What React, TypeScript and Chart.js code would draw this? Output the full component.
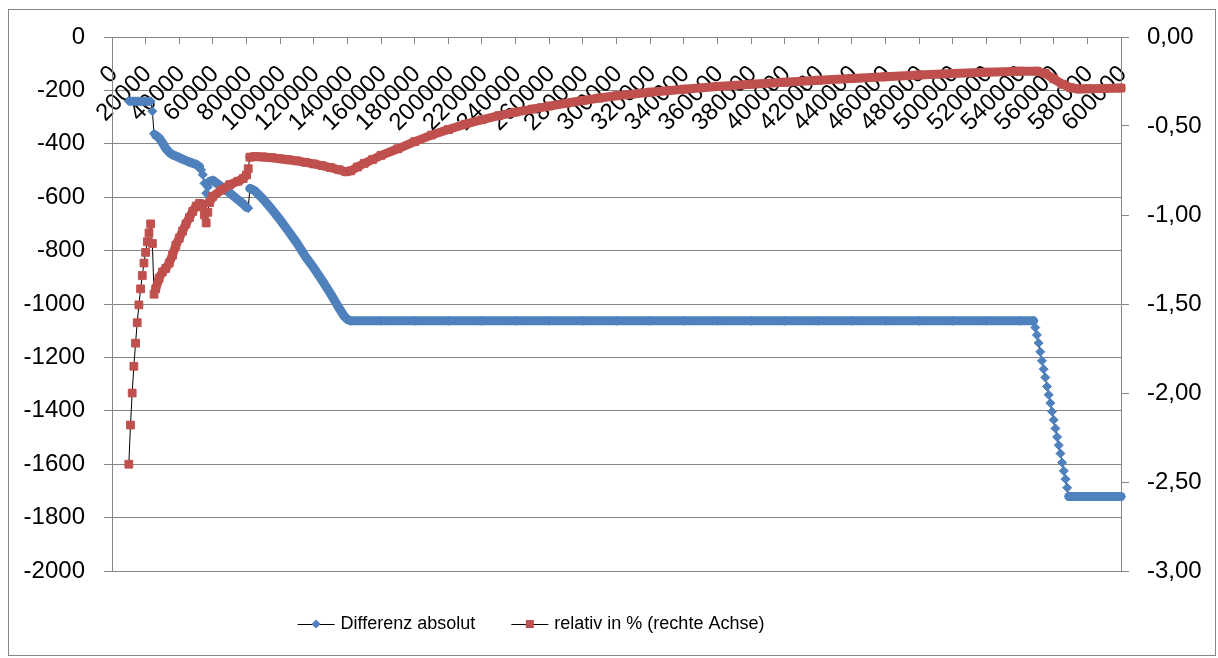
import React, { useEffect, useRef } from "react";
import { Chart, registerables } from "chart.js";

Chart.register(...registerables);

// ---------- data ----------
const seriesNames = ["Differenz absolut", "relativ in % (rechte Achse)"];

const blueX = [
  10000, 11000, 12000, 13000, 14000, 15000, 16000, 17000, 18000, 19000, 20000, 21000, 22000, 23000,
  24000, 25000, 26000, 28000, 30000, 32000, 34000, 36000, 38000, 40000, 42000, 44000, 46000, 48000,
  50000, 52000, 53000, 54000, 55000, 56000, 57000, 58000, 60000, 65000, 70000, 75000, 78000, 80000,
  81000, 82000, 85000, 90000, 95000, 100000, 105000, 110000, 115000, 120000, 125000, 130000, 135000,
  138000, 140000, 142000, 160000, 180000, 200000, 220000, 240000, 260000, 280000, 300000, 320000,
  340000, 360000, 380000, 400000, 420000, 440000, 460000, 480000, 500000, 520000, 540000, 548000,
  549000, 550000, 551000, 552000, 553000, 554000, 555000, 556000, 557000, 558000, 559000, 560000,
  561000, 562000, 563000, 564000, 565000, 566000, 567000, 568000, 569000, 580000, 590000, 600000,
];
const blueY = [
  -240, -241, -241, -241, -241, -241, -241, -242, -241, -241, -242, -242, -241, -241,
  -278, -362, -368, -378, -396, -418, -432, -441, -446, -452, -458, -463, -468, -473,
  -477, -486, -498, -516, -548, -585, -562, -541, -537, -560, -584, -610, -625, -638,
  -641, -567, -576, -608, -645, -685, -728, -772, -822, -865, -912, -962, -1015,
  -1045, -1058, -1063, -1063, -1063, -1063, -1063, -1063, -1063, -1063, -1063, -1063,
  -1063, -1063, -1063, -1063, -1063, -1063, -1063, -1063, -1063, -1063, -1063, -1063,
  -1088, -1116, -1146, -1179, -1213, -1244, -1275, -1309, -1340, -1371, -1403, -1434,
  -1466, -1498, -1529, -1560, -1594, -1625, -1656, -1688, -1721, -1721, -1721, -1721,
];

const redX = [
  10000, 11000, 12000, 13000, 14000, 15000, 16000, 17000, 18000, 19000, 20000, 21000, 22000, 23000,
  24000, 25000, 26000, 28000, 30000, 32000, 34000, 36000, 38000, 40000, 42000, 44000, 46000, 48000,
  50000, 52000, 53000, 54000, 55000, 56000, 57000, 58000, 60000, 65000, 70000, 75000, 78000, 80000,
  81000, 82000, 85000, 90000, 95000, 100000, 105000, 110000, 115000, 120000, 125000, 130000, 135000,
  139000, 142000, 146000, 150000, 155000, 160000, 170000, 180000, 190000, 200000, 210000, 220000,
  230000, 240000, 250000, 260000, 270000, 280000, 290000, 300000, 320000, 340000, 360000, 380000,
  400000, 420000, 440000, 460000, 480000, 500000, 520000, 540000, 550000, 555000, 560000, 565000,
  570000, 575000, 580000, 590000, 600000,
];
const redY = [
  -2.4, -2.18, -2.0, -1.85, -1.72, -1.605, -1.505, -1.415, -1.34, -1.27, -1.21, -1.15, -1.1, -1.05,
  -1.16, -1.445, -1.415, -1.355, -1.32, -1.3, -1.27, -1.225, -1.17, -1.13, -1.09, -1.05, -1.015, -0.98,
  -0.95, -0.935, -0.94, -0.955, -1.0, -1.045, -0.985, -0.93, -0.895, -0.86, -0.83, -0.81, -0.795, -0.775,
  -0.74, -0.675, -0.672, -0.674, -0.678, -0.684, -0.69, -0.696, -0.704, -0.713, -0.723, -0.734, -0.746,
  -0.757, -0.752, -0.73, -0.71, -0.688, -0.665, -0.628, -0.588, -0.551, -0.52, -0.49, -0.465,
  -0.442, -0.422, -0.405, -0.388, -0.372, -0.357, -0.343, -0.33, -0.31, -0.293, -0.278, -0.265,
  -0.254, -0.243, -0.233, -0.223, -0.213, -0.205, -0.198, -0.192, -0.192, -0.205, -0.235, -0.265,
  -0.285, -0.292, -0.291, -0.289, -0.287,
];

// axis ranges / tick steps
const xMin = 0;
const xMax = 600000;
const xStep = 20000;
const yLeftMin = -2000;
const yLeftMax = 0;
const yLeftStep = 200;
const yRightMin = -3;
const yRightMax = 0;
const yRightStep = 0.5;

// ---------- styles ----------
const BLUE = "#4F81BD";
const RED = "#C0504D";
const GRAY = "#868686";
const FONT = "'Liberation Sans', Arial, sans-serif";

const isBand = (ctx: any) => ctx.p1.x - ctx.p0.x > 2.6;

const legendPlugin = {
  id: "xlLegend",
  beforeDraw(chart: any) {
    const c = chart.ctx;
    c.save();
    c.fillStyle = "#fff";
    c.fillRect(0, 0, chart.width, chart.height);
    c.strokeStyle = GRAY;
    c.lineWidth = 1;
    c.strokeRect(8.5, 9.5, 1207, 646);
    c.restore();
  },
  afterDraw(chart: any) {
    const c = chart.ctx;
    c.save();
    c.font = `18px ${FONT}`;
    c.textBaseline = "middle";
    c.textAlign = "left";
    const lineLen = 37;
    const gapText = 6;
    const gapItems = 36;
    const widths = seriesNames.map((n) => c.measureText(n).width);
    const total = widths.reduce((a, w) => a + lineLen + gapText + w, 0) + gapItems;
    let x = 531 - total / 2;
    const y = 624;
    seriesNames.forEach((name, i) => {
      c.strokeStyle = "#000";
      c.lineWidth = 1;
      c.beginPath();
      c.moveTo(x, y + 0.5);
      c.lineTo(x + lineLen, y + 0.5);
      c.stroke();
      const mx = x + lineLen / 2;
      if (i === 0) {
        c.fillStyle = BLUE;
        c.beginPath();
        c.moveTo(mx, y - 4.5);
        c.lineTo(mx + 4.5, y);
        c.lineTo(mx, y + 4.5);
        c.lineTo(mx - 4.5, y);
        c.closePath();
        c.fill();
      } else {
        c.fillStyle = RED;
        c.fillRect(mx - 4, y - 4, 8, 8);
      }
      c.fillStyle = "#000";
      c.fillText(name, x + lineLen + gapText, y);
      x += lineLen + gapText + widths[i] + gapItems;
    });
    c.restore();
  },
};

export default function App() {
  const ref = useRef<HTMLCanvasElement | null>(null);

  useEffect(() => {
    if (!ref.current) return;
    const chart = new Chart(ref.current, {
      type: "line",
      data: {
        datasets: [
          {
            label: seriesNames[0],
            data: blueX.map((x, i) => ({ x, y: blueY[i] })),
            yAxisID: "y",
            order: 1,
            borderColor: "#000",
            borderWidth: 1,
            pointStyle: "rectRot",
            pointRadius: 4.5,
            pointBorderWidth: 1,
            pointBackgroundColor: BLUE,
            pointBorderColor: BLUE,
            borderCapStyle: "round",
            borderJoinStyle: "round",
            tension: 0,
            clip: false as any,
            segment: {
              borderColor: (ctx: any) => (isBand(ctx) ? BLUE : "#000"),
              borderWidth: (ctx: any) => (isBand(ctx) ? 9 : 1),
            },
          },
          {
            label: seriesNames[1],
            data: redX.map((x, i) => ({ x, y: redY[i] })),
            yAxisID: "y1",
            order: 0,
            borderColor: "#000",
            borderWidth: 1,
            pointStyle: "rect",
            pointRadius: 5.5,
            pointBorderWidth: 1,
            pointBackgroundColor: RED,
            pointBorderColor: RED,
            borderCapStyle: "round",
            borderJoinStyle: "round",
            tension: 0,
            clip: false as any,
            segment: {
              borderColor: (ctx: any) => (isBand(ctx) ? RED : "#000"),
              borderWidth: (ctx: any) => (isBand(ctx) ? 9 : 1),
            },
          },
        ],
      },
      options: {
        responsive: false,
        animation: false,
        layout: { padding: { left: 0, right: 0, top: 37, bottom: 87 } },
        plugins: {
          legend: { display: false },
          tooltip: { enabled: false },
        },
        scales: {
          x: {
            type: "linear",
            position: { y: 0 } as any,
            min: xMin,
            max: xMax,
            grid: {
              display: true,
              drawOnChartArea: false,
              drawTicks: true,
              tickLength: 6,
              color: GRAY,
            },
            border: { display: true, color: GRAY },
            ticks: {
              stepSize: xStep,
              autoSkip: false,
              minRotation: 45,
              maxRotation: 45,
              padding: 17,
              labelOffset: 2,
              color: "#000",
              font: { family: FONT, size: 24 },
              callback: (v: any) => String(v),
            },
          },
          y: {
            type: "linear",
            position: "left",
            min: yLeftMin,
            max: yLeftMax,
            afterFit: (s: any) => {
              s.width = 112;
            },
            grid: { color: GRAY, tickLength: 8, drawTicks: true },
            border: { display: true, color: GRAY },
            ticks: {
              stepSize: yLeftStep,
              padding: 19,
              color: "#000",
              font: { family: FONT, size: 24 },
              callback: (v: any) => String(v),
            },
          },
          y1: {
            type: "linear",
            position: "right",
            min: yRightMin,
            max: yRightMax,
            afterFit: (s: any) => {
              s.width = 97;
            },
            grid: { drawOnChartArea: false, color: GRAY, tickLength: 8, drawTicks: true },
            border: { display: true, color: GRAY },
            ticks: {
              stepSize: yRightStep,
              padding: 18,
              color: "#000",
              font: { family: FONT, size: 24 },
              callback: (v: any) => Number(v).toFixed(2).replace(".", ","),
            },
          },
        },
      },
      plugins: [legendPlugin],
    });
    return () => chart.destroy();
  }, []);

  return (
    <div style={{ position: "fixed", left: 0, top: 0, width: 1218, height: 658, background: "#fff" }}>
      <canvas ref={ref} width={1218} height={658} style={{ display: "block", width: 1218, height: 658 }} />
    </div>
  );
}
